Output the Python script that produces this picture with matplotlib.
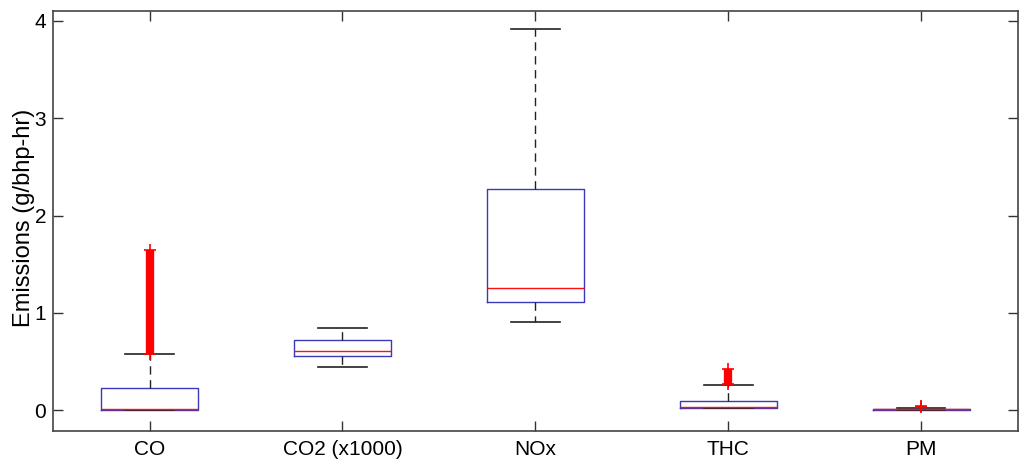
import matplotlib
matplotlib.use('Agg')
import matplotlib.pyplot as plt

# pollutant categories and box statistics (g/bhp-hr)
labels = ['CO', 'CO2 (x1000)', 'NOx', 'THC', 'PM']
q1 = [0.00, 0.56, 1.11, 0.02, 0.00]
med = [0.01, 0.61, 1.26, 0.03, 0.01]
q3 = [0.23, 0.72, 2.27, 0.10, 0.01]
whislo = [0.00, 0.44, 0.91, 0.02, 0.00]
whishi = [0.58, 0.85, 3.92, 0.26, 0.02]

# outliers: dense runs of points, given as the extent of each run
flier_lo = [0.58, None, None, 0.27, 0.03]
flier_hi = [1.65, None, None, 0.42, 0.04]

font = ['Liberation Sans', 'DejaVu Sans']

stats = []
for i, lab in enumerate(labels):
    stats.append(dict(label=lab, q1=q1[i], med=med[i], q3=q3[i],
                      whislo=whislo[i], whishi=whishi[i], fliers=[]))

fig = plt.figure(figsize=(10.24, 4.65), dpi=100)
ax = fig.add_axes([0.0518, 0.0738, 0.994 - 0.0518, 0.976 - 0.0738])

pos = list(range(1, len(labels) + 1))
ax.bxp(stats, positions=pos, widths=0.5, capwidths=0.25, showfliers=False,
       boxprops=dict(color='#3a3ab8', linewidth=1.0),
       medianprops=dict(color='#ff1010', linewidth=1.0),
       whiskerprops=dict(color='#222222', linewidth=1.0, linestyle=(0, (6, 4))),
       capprops=dict(color='#222222', linewidth=1.2))

for i in range(len(labels)):
    if flier_lo[i] is None:
        continue
    ax.vlines(pos[i], flier_lo[i], flier_hi[i], color='#ff0000', linewidth=6, zorder=3)
    ax.plot([pos[i], pos[i]], [flier_lo[i], flier_hi[i]], linestyle='none',
            marker='+', markersize=9, markeredgewidth=1.2, color='#ff0000', zorder=3)

ax.set_xlim(0.5, 5.5)
ax.set_ylim(-0.21, 4.10)
ax.set_yticks([0, 1, 2, 3, 4])
ax.set_yticklabels(['0', '1', '2', '3', '4'], family=font, fontsize=15)
ax.set_xticks(pos)
ax.set_xticklabels(labels, family=font, fontsize=15)
ax.tick_params(direction='in', length=7, width=1, colors='#333333',
               top=True, right=True, labelcolor='black')
ax.tick_params(axis='x', pad=7)
ax.tick_params(axis='y', pad=5)
ax.set_ylabel('Emissions (g/bhp-hr)', family=font, fontsize=17)
ax.yaxis.set_label_coords(-0.019, 0.507)
for s in ax.spines.values():
    s.set_color('#444444')
    s.set_linewidth(1.2)

plt.savefig('out.png', dpi=100)
